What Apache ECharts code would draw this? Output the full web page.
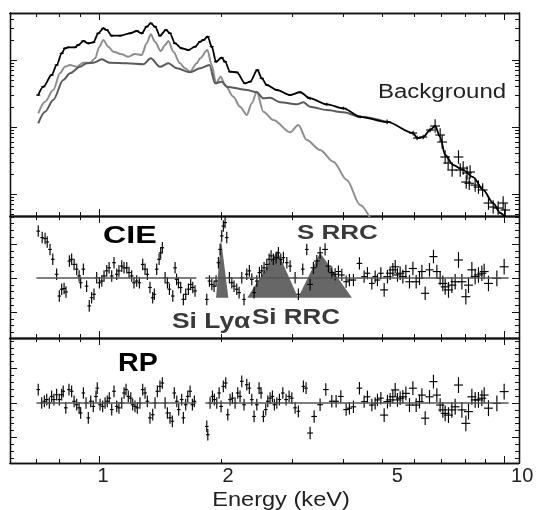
<!DOCTYPE html>
<html>
<head>
<meta charset="utf-8">
<script src="https://cdn.jsdelivr.net/npm/echarts@6.0.0/dist/echarts.min.js"></script>
<style>
html, body { margin: 0; padding: 0; background: #fff; }
#main { width: 536px; height: 510px; }
</style>
</head>
<body>
<div id="main"></div>
<script>
var lg = Math.log10

// axis ranges (keV, counts, residuals)
var energyRange = [0.603, 10.88]
var topRange = [0.0047, 5.03]
var cieRange = [-1.765, 1.824]
var rpRange = [-1.739, 1.884]
var ignoredBand = [1.74, 1.83]

var xLabelE = [1, 2, 5, 10]
var xLabels = ['1', '2', '5', '10']

// top panel: observed spectrum
var spcE = [0.708, 0.729, 0.764, 0.786, 0.809, 0.824, 0.840, 0.872, 0.889, 0.915,
  0.941, 0.968, 0.996, 1.025, 1.045, 1.075, 1.127, 1.193, 1.239, 1.275,
  1.311, 1.342, 1.375, 1.414, 1.463, 1.497, 1.540, 1.600, 1.662, 1.726,
  1.776, 1.809, 1.855, 1.898, 1.945, 2.009, 2.047, 2.106, 2.188, 2.294,
  2.360, 2.460, 2.522, 2.595, 2.747, 2.962, 3.135, 3.319, 3.650, 4.011,
  4.410, 5.141, 5.961, 6.098, 6.310, 6.566, 6.755,
  6.950, 7.030, 7.151, 7.273, 7.441, 7.714, 7.790, 7.922, 8.06, 8.10,
  8.20, 8.24, 8.481, 8.641, 8.85, 9.147, 9.394, 9.665, 9.943, 10.06]
var spcC = [0.300, 0.400, 0.597, 0.842, 1.259, 1.495, 1.547, 1.547, 1.675, 1.921,
  1.776, 1.837, 2.503, 2.972, 2.805, 2.305, 2.305, 2.503, 2.708, 2.503,
  3.141, 3.530, 3.141, 2.305, 2.805, 2.503, 1.776, 1.495, 1.410, 1.579,
  1.876, 1.988, 2.227, 1.579, 0.943, 1.082, 0.943, 0.669, 0.655, 0.449,
  0.475, 0.709, 0.533, 0.424, 0.357, 0.300, 0.330, 0.268, 0.218, 0.190,
  0.142, 0.119, 0.0813, 0.0685, 0.0709, 0.0902, 0.1035,
  0.0760, 0.0597, 0.0357, 0.0290, 0.0228, 0.0357, 0.0228, 0.0244, 0.0151, 0.0206,
  0.0145, 0.0213, 0.0136, 0.0127, 0.0115, 0.00734, 0.0064, 0.00618, 0.00734, 0.00577]

// total model above the Fe line
var totalTailE = [6.950, 7.151, 7.483, 7.922, 8.386, 8.875, 9.394, 9.775, 10.2]
var totalTailC = [0.0709, 0.0382, 0.0271, 0.0228, 0.0179, 0.0115, 0.00734, 0.00521, 0.0040]

// background component (dark grey)
var bgE = [0.708, 0.736, 0.771, 0.816, 0.848, 0.898, 0.932, 0.968, 1.016, 1.064,
  1.171, 1.286, 1.342, 1.414, 1.483, 1.556, 1.678, 1.776, 1.873, 1.934,
  2.009, 2.067, 2.316, 2.452, 2.545, 2.644, 2.799, 3.077, 3.195, 3.319,
  3.650, 4.011, 4.410, 5.141]
var bgC = [0.1135, 0.1692, 0.2529, 0.503, 0.633, 0.794, 0.893, 0.911, 1.024, 0.911,
  0.893, 0.863, 1.060, 0.794, 0.893, 0.752, 0.655, 0.752, 0.842, 0.449,
  0.475, 0.400, 0.357, 0.330, 0.268, 0.274, 0.234, 0.218, 0.234, 0.201,
  0.179, 0.166, 0.142, 0.119]

// source component (light grey)
var srcE = [0.708, 0.736, 0.771, 0.801, 0.824, 0.848, 0.881, 0.915, 0.950, 0.978,
  1.002, 1.025, 1.054, 1.085, 1.138, 1.181, 1.227, 1.275, 1.311, 1.342,
  1.375, 1.420, 1.456, 1.483, 1.526, 1.585, 1.631, 1.678, 1.743, 1.776,
  1.851, 1.898, 1.945, 1.997, 2.047, 2.146, 2.229, 2.316, 2.383, 2.452,
  2.545, 2.694, 2.963, 3.105, 3.257, 3.513, 3.789, 4.088, 4.410, 4.722]
var srcC = [0.160, 0.2385, 0.357, 0.633, 0.794, 0.842, 0.794, 0.911, 0.911, 1.060,
  1.579, 1.988, 1.579, 1.330, 1.216, 1.120, 1.229, 1.188, 1.776, 2.419,
  1.876, 1.362, 1.675, 1.921, 1.330, 0.893, 0.752, 0.669, 0.893, 1.060,
  1.410, 0.842, 0.449, 0.563, 0.424, 0.2833, 0.201, 0.151, 0.226, 0.336,
  0.169, 0.127, 0.0834, 0.1071, 0.0640, 0.0454, 0.0303, 0.0162, 0.00686, 0.00382]

// CIE residuals
var cieE = [0.708, 0.724, 0.736, 0.745, 0.757, 0.769, 0.786, 0.798, 0.809, 0.820,
  0.829, 0.845, 0.856, 0.868, 0.881, 0.893, 0.901, 0.915, 0.932, 0.946,
  0.959, 0.972, 0.987, 1.002, 1.016, 1.029, 1.045, 1.059, 1.075, 1.089,
  1.106, 1.120, 1.138, 1.153, 1.171, 1.186, 1.204, 1.220, 1.239, 1.258,
  1.282, 1.299, 1.316, 1.336, 1.357, 1.369, 1.388, 1.407, 1.420, 1.433,
  1.456, 1.475, 1.492, 1.521, 1.541, 1.554, 1.570, 1.591, 1.615, 1.637,
  1.662, 1.684, 1.704, 1.726,
  1.845, 1.873, 1.899, 1.923, 1.945, 1.971, 1.990, 2.009, 2.027, 2.047,
  2.067, 2.098, 2.127, 2.154, 2.188, 2.217, 2.251, 2.280, 2.316, 2.350,
  2.383, 2.414, 2.452, 2.488, 2.522, 2.555, 2.595, 2.629, 2.659, 2.694,
  2.736, 2.772, 2.810, 2.852, 2.908, 2.963, 3.048, 3.105, 3.184, 3.257,
  3.319, 3.382, 3.448, 3.513, 3.614, 3.683, 3.755, 3.826, 3.899, 3.975,
  4.073,
  4.150, 4.246, 4.393, 4.512, 4.598, 4.714, 4.804, 4.867, 4.962, 5.056,
  5.152, 5.231, 5.312, 5.383, 5.453, 5.537, 5.623, 5.720, 5.839, 5.953,
  6.065, 6.180, 6.265, 6.383, 6.542, 6.691, 6.822, 6.950, 7.057, 7.151,
  7.287, 7.429, 7.569, 7.714, 7.864, 8.044, 8.165, 8.323, 8.481, 8.641,
  8.810, 8.926, 9.147, 9.594, 10.00]
var cieRes = [1.38, 1.19, 1.16, 1.06, 0.84, 0.55, 0.11, -0.53, -0.33, -0.31,
  -0.41, 0.50, 0.55, 0.40, 0.26, 0.06, -0.14, 0.26, -0.24, -0.82,
  -0.58, -0.48, 0.01, -0.14, -0.09, 0.06, 0.21, 0.30, 0.06, 0.45,
  0.11, 0.21, 0.35, 0.30, 0.30, 0.16, 0.06, -0.14, -0.09, -0.14,
  0.40, 0.26, 0.11, -0.28, -0.58, -0.48, 0.26, 0.55, 0.74, 0.89,
  0.01, -0.14, -0.33, -0.53, 0.30, -0.04, -0.14, -0.28, -0.63, -0.48,
  -0.33, -0.19, -0.28, -0.38,
  -0.63, -0.09, -0.19, -0.24, -0.09, 0.45, 0.84, 1.24, 1.53, 1.63,
  1.19, 0.01, -0.14, -0.24, -0.33, -0.43, 0.01, -0.63, 0.11, 0.21,
  -0.04, -0.43, -0.09, 0.16, 0.21, 0.30, 0.40, 0.55, 0.65, 0.55,
  0.60, 0.74, 0.55, 0.60, 0.45, 0.35, 0.01, -0.48, 0.26, 0.84,
  -0.19, 0.30, 0.50, 0.74, 0.84, 0.35, 0.16, 0.11, 0.19, 0.09,
  -0.11,
  -0.06, -0.06, 0.43, 0.04, 0.14, -0.16, 0.04, -0.06, 0.14, -0.35,
  0.04, 0.14, 0.24, 0.33, 0.09, 0.14, 0.04, 0.19, -0.11, 0.28,
  -0.11, -0.01, 0.19, -0.45, 0.24, 0.63, 0.19, -0.01, -0.16, -0.26,
  -0.35, -0.21, -0.11, 0.53, -0.11, -0.55, -0.21, 0.24, 0.04, 0.09,
  0.14, 0.19, -0.16, -0.01, 0.33]

// RP residuals
var rpE = [0.708, 0.722, 0.733, 0.743, 0.754, 0.764, 0.774, 0.786, 0.798, 0.809,
  0.816, 0.828, 0.843, 0.856, 0.868, 0.881, 0.893, 0.901, 0.915, 0.929,
  0.941, 0.954, 0.968, 0.983, 0.990, 1.006, 1.021, 1.035, 1.048, 1.060,
  1.075, 1.089, 1.106, 1.120, 1.138, 1.153, 1.166, 1.181, 1.198, 1.211,
  1.227, 1.243, 1.262, 1.282, 1.299, 1.316, 1.336, 1.357, 1.375, 1.393,
  1.414, 1.433, 1.456, 1.475, 1.497, 1.517, 1.534, 1.556, 1.573, 1.600,
  1.615, 1.637, 1.656, 1.678, 1.700, 1.719,
  1.845, 1.856, 1.880, 1.905, 1.926, 1.953, 1.979, 2.001, 2.027, 2.055,
  2.079, 2.106, 2.134, 2.167, 2.200, 2.229, 2.251, 2.280, 2.316, 2.350,
  2.383, 2.414, 2.452, 2.484, 2.512, 2.545, 2.580, 2.610, 2.644, 2.679,
  2.709, 2.747, 2.788, 2.842, 2.896, 2.946, 2.992, 3.048, 3.105, 3.195,
  3.244, 3.319, 3.396, 3.513, 3.629, 3.755, 3.848, 3.952, 4.073,
  4.150, 4.246, 4.393, 4.512, 4.598, 4.714, 4.804, 4.867, 4.962, 5.056,
  5.152, 5.231, 5.312, 5.383, 5.453, 5.537, 5.623, 5.720, 5.839, 5.953,
  6.065, 6.180, 6.265, 6.383, 6.542, 6.691, 6.822, 6.950, 7.057, 7.151,
  7.287, 7.429, 7.569, 7.714, 7.864, 8.044, 8.165, 8.323, 8.481, 8.641,
  8.810, 8.926, 9.147, 9.594, 10.00]
var rpRes = [0.39, 0.00, 0.05, 0.10, 0.00, 0.19, 0.10, 0.24, 0.10, 0.24,
  0.34, -0.14, 0.39, 0.34, 0.05, -0.05, -0.14, -0.29, 0.29, 0.00,
  -0.43, 0.05, -0.10, 0.19, 0.43, -0.05, -0.10, 0.00, 0.05, 0.14,
  -0.19, 0.34, -0.10, -0.14, 0.00, 0.29, 0.39, 0.19, 0.14, -0.05,
  -0.10, -0.14, 0.00, 0.39, 0.29, 0.05, -0.43, -0.34, 0.00, 0.34,
  0.48, 0.58, 0.00, -0.29, -0.43, -0.53, 0.29, 0.05, -0.19, 0.10,
  -0.43, -0.05, 0.19, 0.34, -0.05, 0.05,
  -0.68, -0.92, 0.00, 0.19, 0.10, 0.00, 0.29, -0.10, 0.48, 0.58,
  -0.34, 0.10, 0.14, 0.00, 0.29, 0.19, 0.63, -0.05, 0.53, 0.43,
  0.10, -0.39, -0.05, 0.43, 0.29, -0.39, -0.19, 0.05, 0.14, 0.19,
  -0.05, 0.00, 0.10, 0.29, 0.10, 0.19, 0.14, -0.14, -0.24, 0.48,
  0.43, -0.87, -0.39, -0.05, 0.39, 0.05, 0.05, 0.19, -0.19,
  -0.15, -0.11, 0.43, 0.04, 0.18, -0.06, -0.01, 0.09, 0.14, -0.35,
  0.04, 0.09, 0.18, 0.38, 0.09, 0.14, 0.18, 0.28, -0.06, 0.43,
  -0.06, 0.04, 0.23, -0.44, 0.18, 0.62, 0.23, -0.06, -0.20, -0.30,
  -0.35, -0.20, -0.11, 0.52, -0.20, -0.59, -0.25, 0.18, 0.09, 0.09,
  0.14, 0.23, -0.15, -0.01, 0.33]

// error bars by energy band: [from keV, y half-size, x half-width in dex]
var spcErr = [[0, 0.014, 0.005], [3.3, 0.022, 0.007], [5, 0.035, 0.01], [6.6, 0.1, 0.012]]
var resErr = [[0, 0.17, 0.0045], [3.3, 0.18, 0.007], [5, 0.2, 0.01], [7, 0.23, 0.011]]

// line features marked in the CIE panel: [left, apex, right] keV
var featE = [[1.945, 2.0, 2.086], [2.322, 2.755, 3.10], [3.10, 3.513, 4.21]]
var featPeak = [1.15, 0.8, 0.74]
var featBase = -0.58

var FONT = '"Liberation Sans", Arial, sans-serif'
var AXIS = { color: '#111', width: 1.3 }
var TICK = { color: '#111', width: 1 }

function logTicks(range) {
  var major = [], minor = []
  for (var n = -4; n <= 2; n++) {
    for (var k = 1; k <= 9; k++) {
      var v = k * Math.pow(10, n)
      if (v < range[0] || v > range[1]) continue
      if (k === 1) major.push(lg(v)); else minor.push(lg(v))
    }
  }
  return { major: major, minor: minor }
}
function linTicks(range) {
  var major = [], minor = []
  for (var i = -20; i <= 20; i++) {
    var v = i * 0.2
    if (v < range[0] || v > range[1]) continue
    if (i % 5 === 0) major.push(v); else minor.push(v)
  }
  return { major: major, minor: minor }
}

var xt = logTicks(energyRange)
var labelShift = [8, 14, 30, 36]
var rich = {}
xLabels.forEach(function (t, i) {
  rich['p' + i] = { padding: [0, 0, 0, labelShift[i]], fontSize: 20, fontFamily: FONT, color: '#222' }
})
var xLabelStyle = {
  show: true, margin: 3, customValues: xLabelE.map(lg),
  fontSize: 20, fontFamily: FONT, color: '#222', rich: rich,
  formatter: function (v) {
    for (var i = 0; i < xLabelE.length; i++) {
      if (Math.abs(lg(xLabelE[i]) - v) < 1e-6) return '{p' + i + '|' + xLabels[i] + '}'
    }
    return ''
  }
}

function makeX(g, pos, ticks, len, label) {
  return {
    type: 'value', gridIndex: g, position: pos,
    min: lg(energyRange[0]), max: lg(energyRange[1]),
    axisLine: { show: true, onZero: false, lineStyle: AXIS },
    axisTick: { show: true, inside: true, length: len, customValues: ticks, lineStyle: TICK },
    axisLabel: label || { show: false },
    splitLine: { show: false }
  }
}
function makeY(g, pos, range, ticks, len) {
  return {
    type: 'value', gridIndex: g, position: pos, min: range[0], max: range[1],
    axisLine: { show: true, onZero: false, lineStyle: AXIS },
    axisTick: { show: true, inside: true, length: len, customValues: ticks, lineStyle: TICK },
    axisLabel: { show: false },
    splitLine: { show: false }
  }
}

var yRanges = [[lg(topRange[0]), lg(topRange[1])], cieRange, rpRange]
var yTicks = [logTicks(topRange), linTicks(cieRange), linTicks(rpRange)]

var xAxis = [], yAxis = []
for (var g = 0; g < 3; g++) {
  xAxis.push(makeX(g, 'bottom', xt.major, 7, g === 2 ? xLabelStyle : null))
  xAxis.push(makeX(g, 'bottom', xt.minor, 4))
  xAxis.push(makeX(g, 'top', xt.major, 7))
  xAxis.push(makeX(g, 'top', xt.minor, 4))
  yAxis.push(makeY(g, 'left', yRanges[g], yTicks[g].major, 7))
  yAxis.push(makeY(g, 'left', yRanges[g], yTicks[g].minor, 4))
  yAxis.push(makeY(g, 'right', yRanges[g], yTicks[g].major, 7))
  yAxis.push(makeY(g, 'right', yRanges[g], yTicks[g].minor, 4))
}

function band(table, e) {
  var row = table[0]
  for (var i = 0; i < table.length; i++) if (e >= table[i][0]) row = table[i]
  return row
}
function crossData(es, vs, table, logY) {
  return es.map(function (e, i) {
    var b = band(table, e)
    return [lg(e), logY ? lg(vs[i]) : vs[i], b[1], b[2]]
  })
}
function renderCross(params, api) {
  var x = api.value(0), y = api.value(1), ey = api.value(2), ex = api.value(3)
  var a = api.coord([x - ex, y]), b = api.coord([x + ex, y])
  var c = api.coord([x, y - ey]), d = api.coord([x, y + ey])
  var st = { stroke: '#000', lineWidth: 1.15 }
  return {
    type: 'group',
    children: [
      { type: 'line', shape: { x1: a[0], y1: a[1], x2: b[0], y2: b[1] }, style: st },
      { type: 'line', shape: { x1: c[0], y1: c[1], x2: d[0], y2: d[1] }, style: st }
    ]
  }
}
function renderFeature(params, api) {
  var pts = [
    api.coord([api.value(0), api.value(3)]),
    api.coord([api.value(1), api.value(4)]),
    api.coord([api.value(2), api.value(3)])
  ]
  return { type: 'polygon', shape: { points: pts }, style: { fill: '#676767' } }
}
function toLine(es, cs) {
  return es.map(function (e, i) { return [lg(e), lg(cs[i])] })
}
function zeroLine(es) {
  var first = lg(es[0]) - band(resErr, es[0])[2]
  var lastE = es[es.length - 1]
  var last = lg(lastE) + band(resErr, lastE)[2]
  var mid = lg((ignoredBand[0] + ignoredBand[1]) / 2)
  return [[first, 0], [lg(ignoredBand[0]), 0], [mid, '-'], [lg(ignoredBand[1]), 0], [last, 0]]
}

var lowCount = spcE.filter(function (e) { return e < 6.8 }).length
var totalE = spcE.slice(0, lowCount).concat(totalTailE)
var totalC = spcC.slice(0, lowCount).concat(totalTailC)

function modelLine(data, color, width) {
  return {
    type: 'line', xAxisIndex: 0, yAxisIndex: 0, data: data,
    showSymbol: false, smooth: 0.3, smoothMonotone: 'x', clip: true, silent: true,
    lineStyle: { color: color, width: width }
  }
}
function crossSeries(g, data) {
  return {
    type: 'custom', xAxisIndex: g * 4, yAxisIndex: g * 4, data: data,
    encode: { x: 0, y: 1 }, renderItem: renderCross, clip: true, silent: true
  }
}
function zeroSeries(g, es) {
  return {
    type: 'line', xAxisIndex: g * 4, yAxisIndex: g * 4, data: zeroLine(es),
    showSymbol: false, silent: true, lineStyle: { color: '#555', width: 1.3 }
  }
}

var series = [
  modelLine(toLine(srcE, srcC), '#8e8e8e', 2),
  modelLine(toLine(bgE, bgC), '#5a5a5a', 2),
  modelLine(toLine(totalE, totalC), '#000', 1.8),
  crossSeries(0, crossData(spcE, spcC, spcErr, true)),
  {
    type: 'custom', xAxisIndex: 4, yAxisIndex: 4,
    data: featE.map(function (f, i) { return [lg(f[0]), lg(f[1]), lg(f[2]), featBase, featPeak[i]] }),
    encode: { x: [0, 1, 2], y: [3, 4] }, renderItem: renderFeature, silent: true
  },
  zeroSeries(1, cieE),
  crossSeries(1, crossData(cieE, cieRes, resErr, false)),
  zeroSeries(2, rpE),
  crossSeries(2, crossData(rpE, rpRes, resErr, false))
]

function label(text, x, y, font, sx, fill, align) {
  return {
    type: 'text', x: x, y: y, scaleX: sx, z: 100,
    style: { text: text, font: font, fill: fill, align: align || 'left', verticalAlign: 'middle' }
  }
}

var chart = echarts.init(document.getElementById('main'))
chart.setOption({
  animation: false,
  backgroundColor: '#fff',
  grid: [
    { left: 10, right: 17, top: 13, height: 203, outerBoundsMode: 'none' },
    { left: 10, right: 17, top: 216, height: 122, outerBoundsMode: 'none' },
    { left: 10, right: 17, top: 338, height: 125, outerBoundsMode: 'none' }
  ],
  xAxis: xAxis,
  yAxis: yAxis,
  series: series,
  graphic: [
    label('Background', 378, 92, '20px ' + FONT, 1.2, '#222'),
    label('CIE', 103, 236.5, 'bold 23px ' + FONT, 1.4, '#000'),
    label('S RRC', 297, 233.5, 'bold 20px ' + FONT, 1.3, '#3a3a3a'),
    label('Si Lyα', 172, 322, 'bold 22px ' + FONT, 1.2, '#3a3a3a'),
    label('Si RRC', 252, 318, 'bold 22px ' + FONT, 1.18, '#3a3a3a'),
    label('RP', 118, 363.5, 'bold 26px ' + FONT, 1.1, '#000'),
    label('Energy (keV)', 281, 500, '20px ' + FONT, 1.18, '#222', 'center')
  ]
})
</script>
</body>
</html>
